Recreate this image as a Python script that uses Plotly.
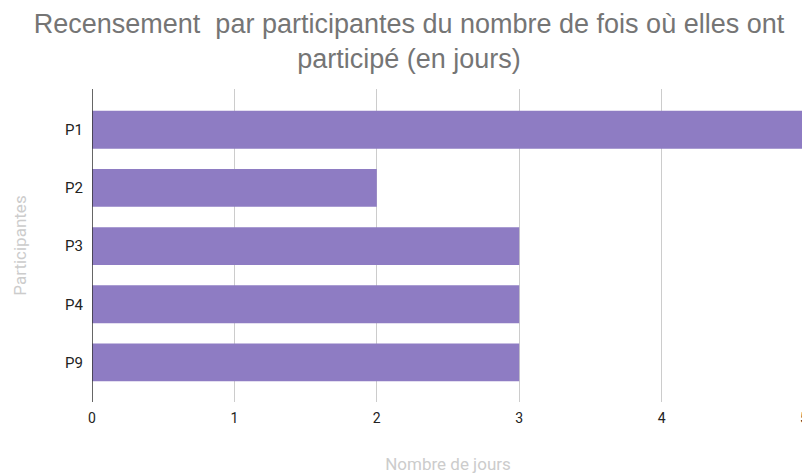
import plotly.graph_objects as go

participants = ["P1", "P2", "P3", "P4", "P9"]
jours = [5, 2, 3, 3, 3]
x_ticks = [0, 1, 2, 3, 4, 5]

# The page body has an 8px default margin, so the figure is sized to fit the window.
W, H = 802, 467

fig = go.Figure(go.Bar(
    x=jours, y=participants, orientation="h",
    marker=dict(color="#8e7cc3", line=dict(width=0)),
    hoverinfo="x+y",
))

fig.update_layout(
    width=W, height=H,
    margin=dict(l=84, r=6, t=81, b=73, autoexpand=False),
    paper_bgcolor="white", plot_bgcolor="white",
    bargap=0.35,
    showlegend=False,
    title=dict(
        text="Recensement  par participantes du nombre de fois où elles ont<br>participé (en jours)",
        x=0.5, xanchor="center", y=1 - 24.5 / H, yanchor="middle", yref="container",
        font=dict(family="Liberation Sans, Arial, sans-serif", size=27, color="#757575"),
    ),
    xaxis=dict(
        range=[0, 5], tickvals=x_ticks, ticktext=[str(v) for v in x_ticks],
        showgrid=True, gridcolor="#cccccc", gridwidth=1,
        zeroline=False, showline=False, automargin=False,
        tickfont=dict(family="Roboto, sans-serif", size=14, color="#222222"),
        ticklabelstandoff=6,
        title=dict(text="Nombre de jours", standoff=33,
                   font=dict(family="Roboto, sans-serif", size=17, color="#cccccc")),
        ticks="", fixedrange=True,
    ),
    yaxis=dict(
        categoryorder="array", categoryarray=participants,
        range=[4.68, -0.7], autorange=False,
        showgrid=False, zeroline=False, automargin=False,
        showline=False,
        tickfont=dict(family="Roboto, sans-serif", size=15, color="#222222"),
        ticklabelstandoff=8,
        title=dict(text="Participantes", standoff=34,
                   font=dict(family="Roboto, sans-serif", size=17, color="#cccccc")),
        ticks="",
    ),
    shapes=[dict(type="line", xref="x", yref="paper", x0=0, x1=0, y0=0, y1=1,
                 line=dict(color="#333333", width=1.5))],
)

fig.write_html("out.html")
